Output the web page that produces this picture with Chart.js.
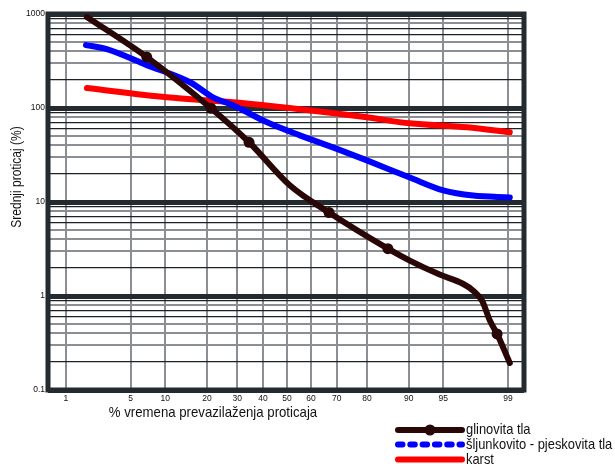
<!DOCTYPE html>
<html>
<head>
<meta charset="utf-8">
<script src="https://cdn.jsdelivr.net/npm/chart.js@4"></script>
<style>
html,body{margin:0;padding:0;background:#fff;}
#wrap{width:615px;height:464px;position:relative;}
</style>
</head>
<body>
<div id="wrap"><canvas id="c" width="615" height="464"></canvas></div>
<script>
// ---- data (x = % of time exceeded, y = mean discharge %) ----
const seriesLabels = ['glinovita tla', 'šljunkovito - pjeskovita tla', 'karst'];
const glinovitaP = [1.76, 7.0, 21.2, 34.5, 51.3, 67.1, 85.6, 90.2, 94.6, 96.8, 97.5, 98.0, 98.37, 98.65, 99.05];
const glinovitaQ = [929, 348, 99.4, 43.2, 15.0, 7.73, 3.19, 2.38, 1.69, 1.35, 1.14, 0.89, 0.545, 0.395, 0.194];
const glinovitaMarkers = [1, 2, 3, 5, 6, 13];
const sljunkP = [1.72, 2.9, 7.0, 15.4, 21.8, 28.5, 41.7, 55.4, 68.6, 80.0, 90.2, 95.0, 97.5, 99.05];
const sljunkQ = [467, 423, 286, 188, 130, 107, 70.4, 51.2, 38.1, 27.7, 18.2, 13.3, 11.7, 11.2];
const karstP = [1.76, 10.3, 28.5, 55.4, 80.0, 90.2, 97.1, 99.05];
const karstQ = [163, 130, 115, 97, 79.6, 68.7, 62.3, 55.1];
const xTickLabels = [1, 5, 10, 20, 30, 40, 50, 60, 70, 80, 90, 95, 99];
const yTickLabels = [0.1, 1, 10, 100, 1000];
const yMinorSignif = [2, 3, 4, 5, 6, 7, 8, 9, 9.5];
const xTitle = '% vremena prevazilaženja proticaja';
const yTitle = 'Srednji proticaj (%)';

// inverse normal CDF (probability paper transform)
function probit(p) {
  const a = [-3.969683028665376e+01, 2.209460984245205e+02, -2.759285104469687e+02, 1.383577518672690e+02, -3.066479806614716e+01, 2.506628277459239e+00];
  const b = [-5.447609879822406e+01, 1.615858368580409e+02, -1.556989798598866e+02, 6.680131188771972e+01, -1.328068155288572e+01];
  const c = [-7.784894002430293e-03, -3.223964580411365e-01, -2.400758277161838e+00, -2.549732539343734e+00, 4.374664141464968e+00, 2.938163982698783e+00];
  const d = [7.784695709041462e-03, 3.224671290700398e-01, 2.445134137142996e+00, 3.754408661907416e+00];
  const pl = 0.02425, ph = 1 - pl;
  let q, r;
  if (p < pl) { q = Math.sqrt(-2 * Math.log(p)); return (((((c[0]*q+c[1])*q+c[2])*q+c[3])*q+c[4])*q+c[5]) / ((((d[0]*q+d[1])*q+d[2])*q+d[3])*q+1); }
  if (p <= ph) { q = p - 0.5; r = q*q; return (((((a[0]*r+a[1])*r+a[2])*r+a[3])*r+a[4])*r+a[5])*q / (((((b[0]*r+b[1])*r+b[2])*r+b[3])*r+b[4])*r+1); }
  q = Math.sqrt(-2 * Math.log(1 - p)); return -(((((c[0]*q+c[1])*q+c[2])*q+c[3])*q+c[4])*q+c[5]) / ((((d[0]*q+d[1])*q+d[2])*q+d[3])*q+1);
}
const z = pct => probit(pct / 100);
const toPts = (P, Q) => P.map((p, i) => ({ x: z(p), y: Q[i] }));

const FONT = "'Liberation Sans', Arial, sans-serif";
const DARK = '#232a30';
const GRAY = '#8b8f94';
const BLACKLINE = '#1d2227';
const CLAY = '#2a0707';

const yTickValues = [];
yTickLabels.forEach((dec, i) => {
  yTickValues.push(dec);
  if (i < yTickLabels.length - 1) yMinorSignif.forEach(s => yTickValues.push(+(dec * s).toPrecision(6)));
});
const isDecade = v => yTickLabels.some(d => Math.abs(d - v) / d < 1e-6);
const minorColor = v => {
  const s = +(v / Math.pow(10, Math.floor(Math.log10(v) + 1e-9))).toFixed(1);
  return ({2: BLACKLINE, 3: GRAY, 4: GRAY, 5: GRAY, 6: BLACKLINE, 7: BLACKLINE, 8: GRAY, 9: BLACKLINE, 9.5: GRAY})[s] || GRAY;
};

function narrowText(ctx, text, x, y, sx, align) {
  ctx.save();
  ctx.translate(x, y);
  ctx.scale(sx, 1);
  ctx.textAlign = align;
  ctx.fillText(text, 0, 0);
  ctx.restore();
}

const decorPlugin = {
  id: 'decor',
  beforeDatasetsDraw(chart) {
    const { ctx, chartArea: a } = chart;
    ctx.save();
    ctx.strokeStyle = DARK;
    ctx.lineWidth = 5;
    ctx.strokeRect(a.left, a.top, a.right - a.left, a.bottom - a.top);
    ctx.restore();
  },
  afterDraw(chart) {
    const { ctx } = chart;
    ctx.save();
    ctx.fillStyle = '#111';
    ctx.font = '15px ' + FONT;
    ctx.textBaseline = 'middle';
    narrowText(ctx, xTitle, 213, 413, 0.88, 'center');
    ctx.translate(17, 177);
    ctx.rotate(-Math.PI / 2);
    narrowText(ctx, yTitle, 0, 0, 0.8, 'center');
    ctx.restore();

    // legend
    const rows = [430, 444.5, 459.5];
    chart.data.datasets.forEach((ds, i) => {
      const y = rows[i];
      ctx.save();
      ctx.strokeStyle = ds.borderColor;
      ctx.lineWidth = 6;
      ctx.lineCap = 'round';
      if (i === 1) ctx.setLineDash([4.5, 7.8]);
      ctx.beginPath();
      ctx.moveTo(398, y);
      ctx.lineTo(462, y);
      ctx.stroke();
      ctx.setLineDash([]);
      if (i === 0) {
        ctx.fillStyle = ds.borderColor;
        ctx.beginPath();
        ctx.arc(430, y, 5.5, 0, Math.PI * 2);
        ctx.fill();
      }
      ctx.fillStyle = '#111';
      ctx.font = '15px ' + FONT;
      ctx.textBaseline = 'middle';
      narrowText(ctx, ds.label, 466, y, 0.86, 'left');
      ctx.restore();
    });
  }
};

new Chart(document.getElementById('c'), {
  type: 'line',
  data: {
    datasets: [
      {
        label: seriesLabels[0],
        data: toPts(glinovitaP, glinovitaQ),
        borderColor: CLAY,
        backgroundColor: CLAY,
        borderWidth: 6,
        borderCapStyle: 'round',
        borderJoinStyle: 'round',
        pointRadius: glinovitaP.map((_, i) => glinovitaMarkers.includes(i) ? 5.5 : 0),
        pointBorderWidth: 0,
        cubicInterpolationMode: 'monotone'
      },
      {
        label: seriesLabels[1],
        data: toPts(sljunkP, sljunkQ),
        borderColor: '#0000ff',
        backgroundColor: '#0000ff',
        borderWidth: 6,
        borderCapStyle: 'round',
        borderJoinStyle: 'round',
        pointRadius: 0,
        cubicInterpolationMode: 'monotone'
      },
      {
        label: seriesLabels[2],
        data: toPts(karstP, karstQ),
        borderColor: '#ff0000',
        backgroundColor: '#ff0000',
        borderWidth: 6,
        borderCapStyle: 'round',
        borderJoinStyle: 'round',
        pointRadius: 0,
        cubicInterpolationMode: 'monotone'
      }
    ]
  },
  options: {
    responsive: false,
    animation: false,
    events: [],
    layout: { padding: { top: 14, right: 91, bottom: 44, left: 0 } },
    plugins: { legend: { display: false }, tooltip: { enabled: false }, title: { display: false } },
    scales: {
      x: {
        type: 'linear',
        min: -2.515,
        max: 2.495,
        afterFit(s) { s.height = 30; },
        afterBuildTicks(s) { s.ticks = xTickLabels.map(p => ({ value: z(p), label: String(p) })); },
        ticks: {
          autoSkip: false,
          maxRotation: 0,
          padding: 4,
          color: '#111',
          font: { family: FONT, size: 8.5 },
          callback(v, i) { return String(xTickLabels[i]); }
        },
        grid: { drawTicks: false, color: GRAY, lineWidth: 2 },
        border: { display: false }
      },
      y: {
        type: 'logarithmic',
        min: 0.1,
        max: 1000,
        afterFit(s) { s.width = 48; },
        afterBuildTicks(s) { s.ticks = yTickValues.map(v => ({ value: v })); },
        ticks: {
          autoSkip: false,
          padding: 3,
          color: '#111',
          font: { family: FONT, size: 8.5 },
          callback(v) { return isDecade(v) ? String(v) : ''; }
        },
        grid: {
          drawTicks: false,
          color: ctx => isDecade(ctx.tick.value) ? DARK : minorColor(ctx.tick.value),
          lineWidth: ctx => isDecade(ctx.tick.value) ? 5 : (minorColor(ctx.tick.value) === GRAY ? 2 : 1.3)
        },
        border: { display: false }
      }
    }
  },
  plugins: [decorPlugin]
});
</script>
</body>
</html>
